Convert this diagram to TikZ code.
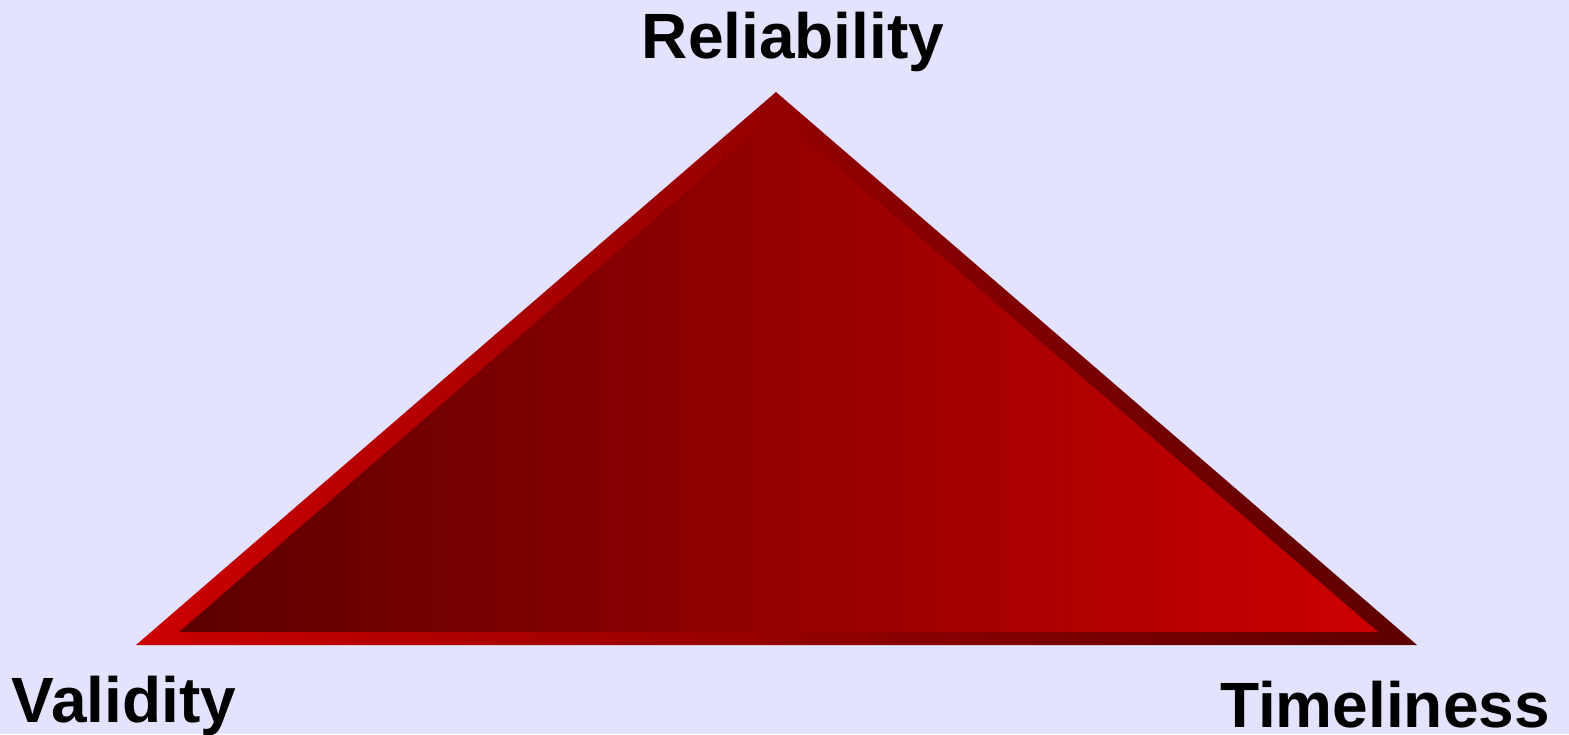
\documentclass[tikz,border=0pt]{standalone}
\usepackage{fontspec}
\setmainfont{Liberation Sans}
\usepackage{xcolor}
\usepackage{tikz}
\usetikzlibrary{positioning,calc}
\definecolor{lavender}{HTML}{E3E3FF}
\definecolor{brightred}{HTML}{CC0000}
\definecolor{darkred}{HTML}{5C0000}
\tikzset{
  cornerlabel/.style={
    font=\fontsize{64}{70}\selectfont\bfseries, text=black,
    inner sep=0pt, anchor=base
  },
  outertri/.style={left color=brightred, right color=darkred},
  innertri/.style={left color=darkred, right color=brightred},
}

\begin{document}
\begin{tikzpicture}[x=1pt, y=-1pt]
% Background
\fill[lavender] (0,0) rectangle (1569,734);
\useasboundingbox (0,0) rectangle (1569,734);

% Corners
\coordinate (out-top) at (776,92);
\coordinate (out-left) at (136,645);
\coordinate (out-right) at (1417,645);
\coordinate (in-top) at (776,114);
\coordinate (in-left) at (179,632);
\coordinate (in-right) at (1378,632);

% Triangles
\shade[outertri] (out-left) -- (out-top) -- (out-right) -- cycle;
\shade[innertri] (in-left) -- (in-top) -- (in-right) -- cycle;

% Labels
\node[cornerlabel] (rel-label) at (793,58) {Reliability};
\node[cornerlabel] (val-label) at (124,722) {Validity};
\node[cornerlabel] (tim-label) at (1385,727) {Timeliness};
\end{tikzpicture}
\end{document}
